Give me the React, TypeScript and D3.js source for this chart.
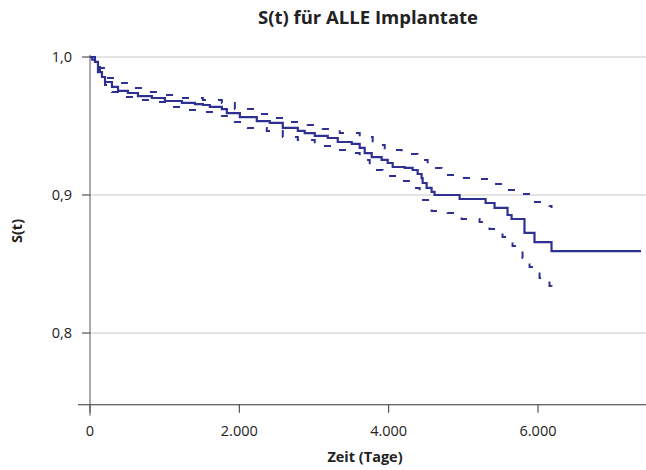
import React, { useEffect, useRef } from 'react';
import * as d3 from 'd3';

// Kaplan-Meier Schätzer (Zeit in Tagen, S(t))
const survTime = [0, 30, 67, 107, 160, 201, 294, 375, 508, 642, 829, 1003, 1231, 1405, 1512, 1605, 1766, 1833, 2007, 2234, 2408, 2582, 2783, 2876, 3010, 3184, 3318, 3505, 3612, 3679, 3773, 3906, 3987, 4054, 4214, 4321, 4388, 4441, 4455, 4508, 4575, 4615, 4950, 5298, 5418, 5592, 5646, 5819, 5953, 6181, 7380];
const survValue = [1.0, 0.998, 0.9964, 0.9891, 0.9855, 0.9819, 0.9783, 0.9754, 0.9739, 0.9717, 0.9703, 0.9681, 0.9667, 0.9659, 0.9652, 0.9638, 0.9623, 0.9594, 0.9565, 0.9536, 0.9522, 0.9486, 0.9464, 0.9449, 0.9428, 0.9413, 0.9384, 0.937, 0.9341, 0.9304, 0.9275, 0.9254, 0.9232, 0.9203, 0.9196, 0.9181, 0.9152, 0.9123, 0.9087, 0.9051, 0.9022, 0.9, 0.8971, 0.8942, 0.8906, 0.8855, 0.8826, 0.8725, 0.8659, 0.8594, 0.8594];

// obere Konfidenzgrenze
const upperTime = [0, 67, 134, 201, 308, 495, 763, 1003, 1231, 1512, 1766, 1940, 2207, 2435, 2649, 2916, 3117, 3345, 3612, 3786, 3947, 4174, 4388, 4522, 4709, 4977, 5151, 5391, 5579, 5779, 5926, 6154, 6181];
const upperValue = [1.0, 0.9978, 0.992, 0.9848, 0.9812, 0.9775, 0.9746, 0.9725, 0.9703, 0.9688, 0.9667, 0.9623, 0.9587, 0.9558, 0.9529, 0.9507, 0.9478, 0.9449, 0.942, 0.9362, 0.9326, 0.9297, 0.9254, 0.9196, 0.9145, 0.9123, 0.9116, 0.908, 0.9036, 0.9007, 0.8949, 0.892, 0.8906];

// untere Konfidenzgrenze
const lowerTime = [0, 67, 134, 201, 294, 401, 602, 829, 1070, 1298, 1538, 1766, 1940, 2114, 2368, 2582, 2783, 3010, 3251, 3452, 3612, 3746, 3920, 4174, 4321, 4415, 4575, 4789, 4977, 5217, 5351, 5525, 5659, 5793, 5887, 6021, 6154, 6181];
const lowerValue = [1.0, 0.9957, 0.987, 0.9797, 0.9746, 0.971, 0.9688, 0.9674, 0.9638, 0.9616, 0.9601, 0.9572, 0.9529, 0.9486, 0.9464, 0.942, 0.9399, 0.9355, 0.9326, 0.9304, 0.9254, 0.9181, 0.9138, 0.9101, 0.9051, 0.8964, 0.8884, 0.887, 0.8826, 0.8804, 0.8754, 0.8696, 0.863, 0.8543, 0.8478, 0.8399, 0.8341, 0.829];

const xTicks = [0, 2000, 4000, 6000];
const xTickLabels = ['0', '2.000', '4.000', '6.000'];
const yTicks = [0.8, 0.9, 1.0];
const yTickLabels = ['0,8', '0,9', '1,0'];

const App = () => {
  const svgRef = useRef<SVGSVGElement>(null);

  useEffect(() => {
    const width = 646;
    const font = '"Open Sans", sans-serif';
    const blue = '#2e3192';

    const svg = d3.select(svgRef.current);
    svg.selectAll('*').remove();

    const x = d3.scaleLinear().domain([0, 6000]).range([90, 538]);
    const y = d3.scaleLinear().domain([0.8, 1.0]).range([333, 57]);
    const yBottom = 0.748;

    // Gitterlinien
    svg.append('g')
    .selectAll('line')
    .data(yTicks)
    .join('line')
    .attr('x1', x(0))
    .attr('x2', width)
    .attr('y1', d => y(d))
    .attr('y2', d => y(d))
    .attr('stroke', '#c8c8c8')
    .attr('stroke-width', 1);

    // x-Achse
    const xAxis = svg.append('g').attr('transform', `translate(0,${y(yBottom)})`);
    xAxis.append('line')
    .attr('x1', 78).attr('x2', width)
    .attr('stroke', '#333').attr('stroke-width', 1);
    xTicks.forEach((t, i) => {
      xAxis.append('line')
      .attr('x1', x(t)).attr('x2', x(t))
      .attr('y1', 0).attr('y2', 8)
      .attr('stroke', '#333');
      xAxis.append('text')
      .attr('x', x(t)).attr('y', 31)
      .attr('text-anchor', 'middle')
      .attr('font-family', font).attr('font-size', 14.5)
      .attr('fill', '#222')
      .text(xTickLabels[i]);
    });

    // y-Achse
    const yAxis = svg.append('g');
    yAxis.append('line')
    .attr('x1', x(0)).attr('x2', x(0))
    .attr('y1', 55).attr('y2', y(yBottom) + 11)
    .attr('stroke', '#555').attr('stroke-width', 1);
    yTicks.forEach((v, i) => {
      yAxis.append('line')
      .attr('x1', x(0) - 8).attr('x2', x(0))
      .attr('y1', y(v)).attr('y2', y(v))
      .attr('stroke', '#333');
      yAxis.append('text')
      .attr('x', x(0) - 18).attr('y', y(v))
      .attr('dy', '0.35em')
      .attr('text-anchor', 'end')
      .attr('font-family', font).attr('font-size', 14.5)
      .attr('fill', '#222')
      .text(yTickLabels[i]);
    });

    const line = d3.line<[number, number]>()
    .x(d => x(d[0]))
    .y(d => y(d[1]))
    .curve(d3.curveStepAfter);

    const lower = lowerTime.map((t, i) => [t, lowerValue[i]] as [number, number]);
    const upper = upperTime.map((t, i) => [t, upperValue[i]] as [number, number]);
    const surv = survTime.map((t, i) => [t, survValue[i]] as [number, number]);

    [lower, upper].forEach(d => {
      svg.append('path')
      .attr('d', line(d))
      .attr('fill', 'none')
      .attr('stroke', blue)
      .attr('stroke-width', 2)
      .attr('stroke-dasharray', '7,12');
    });

    svg.append('path')
    .attr('d', line(surv))
    .attr('fill', 'none')
    .attr('stroke', blue)
    .attr('stroke-width', 2.2);

    // Titel und Achsenbeschriftungen
    svg.append('text')
    .attr('x', 368).attr('y', 24)
    .attr('text-anchor', 'middle')
    .attr('font-family', font).attr('font-size', 18.5).attr('font-weight', 'bold')
    .attr('fill', '#222')
    .text('S(t) für ALLE Implantate');

    svg.append('text')
    .attr('x', 365).attr('y', 462)
    .attr('text-anchor', 'middle')
    .attr('font-family', font).attr('font-size', 14.5).attr('font-weight', 'bold')
    .attr('fill', '#222')
    .text('Zeit (Tage)');

    svg.append('text')
    .attr('transform', 'rotate(-90)')
    .attr('x', -231).attr('y', 22)
    .attr('text-anchor', 'middle')
    .attr('font-family', font).attr('font-size', 14.5).attr('font-weight', 'bold')
    .attr('fill', '#222')
    .text('S(t)');
  });

  return (
    <svg ref={svgRef} width={646} height={470} style={{ position: 'absolute', left: 0, top: 0, background: 'white' }}></svg>
  );
};

export default App;
